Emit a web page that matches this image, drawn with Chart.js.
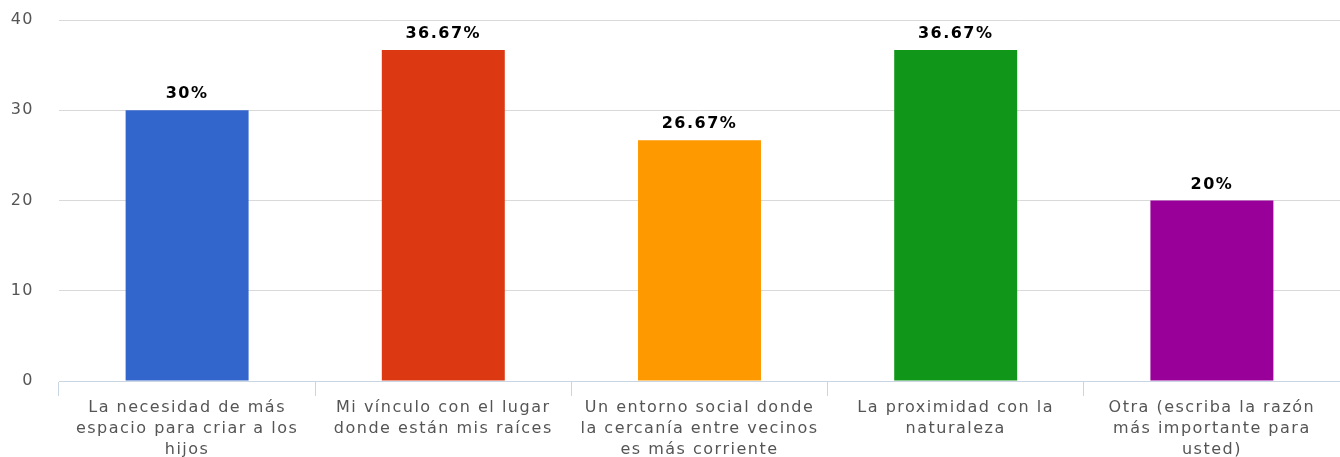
<!DOCTYPE html>
<html lang="es">
<head>
  <meta charset="UTF-8" />
  <title>Razones</title>
  <script src="https://cdn.jsdelivr.net/npm/chart.js"></script>
  <style>
    html, body { margin: 0; padding: 0; background: #fff; }
    #wrap { width: 1340px; height: 457px; }
  </style>
</head>
<body>
  <div id="wrap"><canvas id="chart"></canvas></div>

  <script>
    const categories = [
      ["La necesidad de más", "espacio para criar a los", "hijos"],
      ["Mi vínculo con el lugar", "donde están mis raíces"],
      ["Un entorno social donde", "la cercanía entre vecinos", "es más corriente"],
      ["La proximidad con la", "naturaleza"],
      ["Otra (escriba la razón", "más importante para", "usted)"]
    ];
    const values = [30, 36.67, 26.67, 36.67, 20];
    const valueLabels = ["30%", "36.67%", "26.67%", "36.67%", "20%"];
    const barColors = ["#3366cc", "#dc3912", "#ff9900", "#109618", "#990099"];
    const yTicks = [0, 10, 20, 30, 40];

    const spacing = "1.5px";

    // the original text is spaced out a bit
    const letterSpacing = {
      id: "letterSpacing",
      beforeLayout(chart) { chart.ctx.letterSpacing = spacing; },
      beforeDraw(chart) { chart.ctx.letterSpacing = spacing; }
    };

    // labels above bars
    const topLabels = {
      id: "topLabels",
      afterDatasetsDraw(chart) {
        const ctx = chart.ctx;
        const meta = chart.getDatasetMeta(0);
        ctx.save();
        ctx.letterSpacing = spacing;
        ctx.font = "bold 16px 'DejaVu Sans'";
        ctx.fillStyle = "#000";
        ctx.textAlign = "center";
        ctx.textBaseline = "bottom";
        meta.data.forEach((bar, i) => {
          ctx.fillText(valueLabels[i], bar.x, bar.y - 8);
        });
        ctx.restore();
      }
    };

    new Chart(document.getElementById("chart"), {
      type: "bar",
      data: {
        labels: categories,
        datasets: [{
          data: values,
          backgroundColor: barColors,
          barPercentage: 0.48,
          categoryPercentage: 1
        }]
      },
      options: {
        responsive: true,
        maintainAspectRatio: false,
        animation: false,
        layout: { padding: { top: 20, right: 0, left: 0, bottom: 0 } },
        plugins: {
          legend: { display: false },
          tooltip: { enabled: false }
        },
        scales: {
          x: {
            offset: true,
            grid: {
              offset: true,
              drawOnChartArea: false,
              drawTicks: true,
              tickLength: 15,
              color: "#c9d5e3"
            },
            border: { color: "#c9d5e3", width: 1 },
            ticks: {
              color: "#555",
              padding: 1,
              maxRotation: 0,
              autoSkip: false,
              font: { family: "'DejaVu Sans'", size: 16, lineHeight: 1.32 }
            },
            afterFit(scale) {
              scale.height = 76;
              scale.paddingLeft = 0;
              scale.paddingRight = 0;
            }
          },
          y: {
            min: 0,
            max: 40,
            afterBuildTicks(scale) { scale.ticks = yTicks.map(v => ({ value: v })); },
            grid: { color: "#d9d9d9", drawTicks: false },
            border: { display: false },
            ticks: {
              color: "#555",
              padding: 25,
              font: { family: "'DejaVu Sans'", size: 16 }
            },
            afterFit(scale) {
              scale.width = 59;
              scale.paddingTop = 0;
              scale.paddingBottom = 0;
            }
          }
        }
      },
      plugins: [letterSpacing, topLabels]
    });
  </script>
</body>
</html>
